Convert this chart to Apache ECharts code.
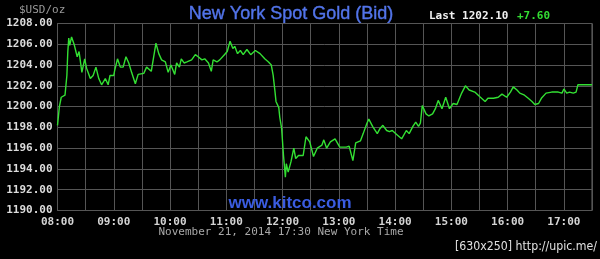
<!DOCTYPE html>
<html><head><meta charset="utf-8">
<script src="https://cdn.jsdelivr.net/npm/echarts@6/dist/echarts.min.js"></script>
<style>html,body{margin:0;padding:0;background:#000;}#c{width:600px;height:259px;}</style>
</head><body><div id="c"></div>
<script>
const times = ["08:00","08:02","08:04","08:08","08:10","08:11","08:12","08:13","08:15","08:18","08:21","08:23","08:26","08:29","08:31","08:35","08:38","08:41","08:44","08:47","08:51","08:54","08:56","09:00","09:01","09:04","09:07","09:10","09:13","09:16","09:19","09:23","09:26","09:32","09:35","09:40","09:42","09:45","09:48","09:51","09:55","09:58","10:01","10:05","10:07","10:10","10:12","10:15","10:18","10:23","10:27","10:30","10:34","10:37","10:41","10:44","10:46","10:50","10:53","10:58","11:01","11:04","11:07","11:09","11:12","11:15","11:18","11:22","11:26","11:31","11:36","11:41","11:45","11:48","11:50","11:52","11:53","11:56","11:57","11:59","12:01","12:03","12:04","12:06","12:09","12:12","12:14","12:17","12:22","12:25","12:29","12:33","12:37","12:42","12:44","12:47","12:51","12:56","13:01","13:08","13:11","13:15","13:18","13:23","13:26","13:30","13:32","13:36","13:41","13:44","13:47","13:51","13:54","13:57","14:02","14:07","14:12","14:15","14:19","14:22","14:25","14:27","14:29","14:33","14:36","14:40","14:43","14:46","14:50","14:54","14:58","15:02","15:06","15:11","15:15","15:19","15:25","15:31","15:36","15:39","15:45","15:50","15:54","15:59","16:03","16:06","16:10","16:13","16:18","16:22","16:26","16:29","16:33","16:36","16:41","16:47","16:54","16:58","17:00","17:03","17:06","17:10","17:13","17:15","17:21","17:30"];
const bids = [1198.2,1200.0,1200.9,1201.1,1203.0,1205.3,1206.6,1205.9,1206.7,1205.9,1204.8,1205.3,1203.3,1204.6,1203.7,1202.7,1203.0,1203.8,1202.7,1202.1,1202.7,1202.1,1203.0,1203.0,1203.5,1204.6,1203.8,1203.8,1204.8,1204.2,1203.3,1202.2,1203.1,1203.2,1203.8,1203.4,1203.5,1206.1,1205.1,1204.5,1204.3,1203.3,1204.0,1203.1,1204.2,1203.8,1204.6,1204.2,1204.3,1204.5,1205.0,1204.8,1204.5,1204.6,1204.2,1203.4,1204.5,1204.3,1204.5,1205.0,1205.3,1206.3,1205.6,1205.8,1205.1,1205.4,1205.0,1205.5,1205.0,1205.4,1205.1,1204.6,1204.3,1204.0,1203.0,1201.4,1200.5,1199.9,1199.0,1197.9,1195.3,1193.2,1194.5,1193.7,1194.7,1196.0,1195.0,1195.3,1195.3,1197.1,1196.6,1195.2,1196.0,1196.3,1196.8,1196.0,1196.6,1196.9,1196.1,1196.1,1196.2,1194.8,1196.5,1196.7,1197.4,1198.4,1198.8,1198.1,1197.4,1197.9,1198.2,1197.7,1197.6,1197.7,1197.3,1196.9,1197.7,1197.4,1198.1,1198.5,1198.1,1198.4,1200.1,1199.3,1199.1,1199.3,1199.8,1200.6,1199.8,1200.9,1199.8,1200.3,1200.2,1201.3,1202.0,1201.6,1201.4,1200.9,1200.5,1200.8,1200.8,1200.9,1201.2,1200.9,1201.4,1201.9,1201.6,1201.3,1201.1,1200.8,1200.5,1200.2,1200.3,1200.8,1201.3,1201.4,1201.4,1201.3,1201.7,1201.3,1201.4,1201.3,1201.4,1202.1,1202.1,1202.1];
const hourLabels = ["08:00","09:00","10:00","11:00","12:00","13:00","14:00","15:00","16:00","17:00"];
const titleText = "New York Spot Gold (Bid)";
const lastText = "Last 1202.10";
const changeText = "+7.60";
const unitText = "$USD/oz";
const dateText = "November 21, 2014 17:30 New York Time";
const siteText = "www.kitco.com";
const creditText = "[630x250] http://upic.me/";

function toMin(t){const p=t.split(':');return (+p[0]-8)*60 + (+p[1]);}
const seriesData = times.map((t,i)=>[toMin(t), bids[i]]);
const labelMap = {};
hourLabels.forEach(h=>{labelMap[toMin(h)]=h;});

const mono = '"DejaVu Sans Mono", monospace';
const chart = echarts.init(document.getElementById('c'), null, {renderer:'canvas'});
chart.setOption({
  backgroundColor:'#000',
  animation:false,
  grid:{left:57.5,right:8,top:23.5,bottom:48.5,show:true,borderColor:'#6a6a6a',borderWidth:1,backgroundColor:'transparent'},
  xAxis:{type:'value',min:0,max:570,interval:30,
    axisLine:{show:false},axisTick:{show:false},
    splitLine:{show:true,lineStyle:{color:'#555',width:1}},
    axisLabel:{color:'#d4d4d4',fontFamily:mono,fontWeight:'bold',fontSize:11,margin:6,showMaxLabel:false,
      formatter:v=>labelMap[v]||''}},
  yAxis:{type:'value',min:1190,max:1208,interval:2,
    axisLine:{show:false},axisTick:{show:false},
    splitLine:{show:true,lineStyle:{color:'#555',width:1}},
    axisLabel:{color:'#dcdcdc',fontFamily:mono,fontWeight:'bold',fontSize:11,margin:5,formatter:v=>v.toFixed(2)}},
  series:[{type:'line',data:seriesData,showSymbol:false,symbol:'none',
    lineStyle:{color:'#33e033',width:1.4},z:3}],
  graphic:[
    {type:'text',left:19,top:5,style:{text:unitText,fill:'#9a9a9a',font:'11px '+mono}},
    {type:'text',x:291,y:14,style:{text:titleText,fill:'#5274ea',font:'18px "Liberation Sans", Arial, sans-serif',textAlign:'center',textVerticalAlign:'middle',stroke:'#5274ea',lineWidth:0.4}},
    {type:'text',x:429,y:16,style:{text:lastText,fill:'#f0f0f0',font:'bold 11px '+mono,textVerticalAlign:'middle'}},
    {type:'text',x:517,y:16,style:{text:changeText,fill:'#33dd33',font:'bold 11px '+mono,textVerticalAlign:'middle'}},
    {type:'text',x:290,y:203,style:{text:siteText,fill:'#3a5ce0',font:'bold 17px "Liberation Sans", Arial, sans-serif',textAlign:'center',textVerticalAlign:'middle'},z:10},
    {type:'text',x:281,y:232.5,style:{text:dateText,fill:'#a8a8a8',font:'11px '+mono,textAlign:'center',textVerticalAlign:'middle'}},
    {type:'text',x:597,y:247,scaleX:0.94,originX:0,originY:0,style:{text:creditText,fill:'#e0e0e0',font:'13px "Liberation Sans Narrow", "DejaVu Sans Condensed", sans-serif',textAlign:'right',textVerticalAlign:'middle'}}
  ]
});
</script></body></html>
